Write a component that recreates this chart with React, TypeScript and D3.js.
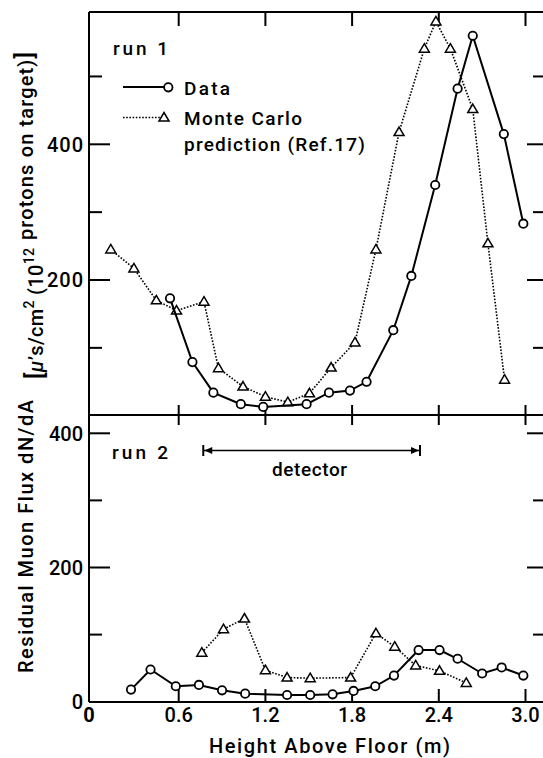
import React from "react";
import * as d3 from "d3";

// ---- data ----
const run1DataX = [0.54, 0.695, 0.84, 1.03, 1.185, 1.485, 1.64, 1.785, 1.9, 2.085, 2.21, 2.375, 2.53, 2.635, 2.85, 2.985];
const run1DataY = [173, 79, 34, 17, 13, 17, 34, 37, 50, 126, 206, 340, 482, 560, 415, 283];
const run1MCX = [0.13, 0.29, 0.445, 0.585, 0.775, 0.875, 1.045, 1.2, 1.355, 1.505, 1.655, 1.82, 1.965, 2.125, 2.3, 2.38, 2.48, 2.635, 2.74, 2.855];
const run1MCY = [245, 217, 170, 155, 168, 70, 43, 28, 20, 33, 71, 108, 245, 418, 541, 581, 541, 452, 254, 53];

const run2DataX = [0.27, 0.405, 0.58, 0.74, 0.9, 1.06, 1.35, 1.51, 1.665, 1.81, 1.96, 2.09, 2.26, 2.405, 2.53, 2.7, 2.835, 2.985];
const run2DataY = [18, 48, 23, 25, 17, 12, 10, 10, 11, 16, 23, 39, 77, 77, 64, 42, 51, 39];
const run2MCX = [0.76, 0.91, 1.055, 1.2, 1.35, 1.51, 1.79, 1.965, 2.095, 2.24, 2.405, 2.59];
const run2MCY = [73, 108, 124, 47, 36, 35, 36, 102, 82, 54, 46, 28];

const detectorRange = [0.77, 2.27];

const xTicks = [0, 0.6, 1.2, 1.8, 2.4, 3.0];
const xTickLabels = ["0", "0.6", "1.2", "1.8", "2.4", "3.0"];
const topMajor = [200, 400];
const topMinor = [100, 300, 500];
const botMajor = [200, 400];
const botMinor = [100, 300];
const botLabels = [0, 200, 400];

// ---- layout ----
const W = 543, H = 758;
const L = 89, R = 545, T = 12, MID = 415, B = 702;
const FONT = "Roboto, 'DejaVu Sans', sans-serif";
const FW = 500;

const x = d3.scaleLinear().domain([0, 3]).range([92, 525.5]);
const yTop = d3.scaleLinear().domain([0, 400]).range([415.7, 144.3]);
const yBot = d3.scaleLinear().domain([0, 400]).range([701.7, 433.3]);

const zip = (xs: number[], ys: number[]) => xs.map((v, i) => [v, ys[i]] as [number, number]);

function tri(cx: number, cy: number, key: string) {
  const p = `M${cx},${cy - 5} L${cx + 5},${cy + 3.5} L${cx - 5},${cy + 3.5} Z`;
  return <path key={key} d={p} fill="white" stroke="black" strokeWidth={1.5} strokeLinejoin="miter" />;
}

function Series({ xs, ys, y, kind }: { xs: number[]; ys: number[]; y: d3.ScaleLinear<number, number>; kind: "data" | "mc" }) {
  const pts = zip(xs, ys);
  const line = d3.line<[number, number]>().x(d => x(d[0])).y(d => y(d[1]));
  return (
    <g>
      <path d={line(pts) || ""} fill="none" stroke="black"
        strokeWidth={kind === "data" ? 2 : 1.6}
        strokeDasharray={kind === "data" ? undefined : "1.6 1.6"} />
      {pts.map((d, i) =>
        kind === "data"
          ? <circle key={i} cx={x(d[0])} cy={y(d[1])} r={4.2} fill="white" stroke="black" strokeWidth={1.8} />
          : tri(x(d[0]), y(d[1]), "t" + i)
      )}
    </g>
  );
}

export default function App() {
  const xt = xTicks.slice(1);
  const dx0 = x(detectorRange[0]);
  const dx1 = x(detectorRange[1]);
  const dy = 450.5;
  return (
    <svg width={W} height={H} style={{ position: "absolute", left: 0, top: 0, background: "white" }}
      fontFamily={FONT} fontWeight={FW}>
      <rect x={0} y={0} width={W} height={H} fill="white" />
      {/* frame */}
      <g stroke="black" strokeWidth={2} fill="none">
        <line x1={L} x2={R} y1={T} y2={T} />
        <line x1={L} x2={R} y1={MID} y2={MID} />
        <line x1={L} x2={R} y1={B} y2={B} />
        <line x1={L} x2={L} y1={T} y2={B} />
        <line x1={R} x2={R} y1={T} y2={B} />
        {xt.map((v, i) => (
          <g key={"xt" + i}>
            <line x1={x(v)} x2={x(v)} y1={T} y2={T + 14} />
            <line x1={x(v)} x2={x(v)} y1={MID - 10} y2={MID + 10} />
            <line x1={x(v)} x2={x(v)} y1={B} y2={B - 13} />
          </g>
        ))}
        {topMajor.map(v => (
          <g key={"tm" + v}>
            <line x1={L} x2={L + 21} y1={yTop(v)} y2={yTop(v)} />
            <line x1={R} x2={R - 18} y1={yTop(v)} y2={yTop(v)} />
          </g>
        ))}
        {topMinor.map(v => (
          <g key={"tn" + v}>
            <line x1={L} x2={L + 13} y1={yTop(v)} y2={yTop(v)} />
            <line x1={R} x2={R - 12} y1={yTop(v)} y2={yTop(v)} />
          </g>
        ))}
        {botMajor.map(v => (
          <g key={"bm" + v}>
            <line x1={L} x2={L + 21} y1={yBot(v)} y2={yBot(v)} />
            <line x1={R} x2={R - 18} y1={yBot(v)} y2={yBot(v)} />
          </g>
        ))}
        {botMinor.map(v => (
          <g key={"bn" + v}>
            <line x1={L} x2={L + 13} y1={yBot(v)} y2={yBot(v)} />
            <line x1={R} x2={R - 12} y1={yBot(v)} y2={yBot(v)} />
          </g>
        ))}
      </g>

      {/* y tick labels */}
      <g fontSize={20} textAnchor="end" fill="black">
        {topMajor.map(v => (
          <text key={"tl" + v} x={83} y={yTop(v)} dy="0.36em" textLength={36} lengthAdjust="spacing">{v}</text>
        ))}
        {botLabels.map(v => (
          <text key={"bl" + v} x={83} y={yBot(v)} dy="0.36em">{v}</text>
        ))}
      </g>
      {/* x tick labels */}
      <g fontSize={20} textAnchor="middle" fill="black">
        {xTicks.map((v, i) => (
          <text key={"xl" + i} x={i === 0 ? 89 : x(v)} y={722} fontWeight={i === 0 ? 700 : FW}>{xTickLabels[i]}</text>
        ))}
      </g>
      <text x={209} y={753} fontSize={20} textLength={241} lengthAdjust="spacing">Height Above Floor (m)</text>

      {/* y axis label */}
      <g fontSize={20} fill="black">
        <text transform="translate(33,673) rotate(-90)" textLength={273} lengthAdjust="spacing">Residual Muon Flux dN/dA</text>
        <text transform="translate(43,379) rotate(-90)" textLength={131} lengthAdjust="spacing">
          <tspan fontSize={24}>[</tspan><tspan fontStyle="italic">μ</tspan>’s/cm<tspan fontSize={14} dy={-9}>2</tspan><tspan dy={9}> (10</tspan><tspan fontSize={14} dy={-9}>12</tspan>
        </text>
        <text transform="translate(33,240) rotate(-90)" textLength={188} lengthAdjust="spacing">
          protons on target)<tspan fontSize={24}>]</tspan>
        </text>
      </g>

      {/* panel labels */}
      <text x={113} y={55} fontSize={19} textLength={55} lengthAdjust="spacing">run 1</text>
      <text x={112} y={459} fontSize={19} textLength={56} lengthAdjust="spacing">run 2</text>

      {/* legend */}
      <line x1={123} x2={164} y1={87} y2={87} stroke="black" strokeWidth={2} />
      <circle cx={168.3} cy={87.3} r={4.2} fill="white" stroke="black" strokeWidth={1.8} />
      <text x={184} y={95} fontSize={19} textLength={46} lengthAdjust="spacing">Data</text>
      <line x1={123} x2={160} y1={117.5} y2={117.5} stroke="black" strokeWidth={1.6} strokeDasharray="1.6 1.6" />
      {tri(164, 117.5, "legtri")}
      <text x={184} y={125} fontSize={19} textLength={118} lengthAdjust="spacing">Monte Carlo</text>
      <text x={184} y={151} fontSize={19} textLength={181} lengthAdjust="spacing">prediction (Ref.17)</text>

      {/* detector arrow */}
      <g stroke="black" strokeWidth={1.6}>
        <line x1={dx0} x2={dx1} y1={dy} y2={dy} />
        <line x1={dx0} x2={dx0} y1={dy - 5.5} y2={dy + 5.5} strokeWidth={2} />
        <line x1={dx1} x2={dx1} y1={dy - 5.5} y2={dy + 5.5} strokeWidth={2} />
      </g>
      <path d={`M${dx0 + 1},${dy} L${dx0 + 9},${dy - 3.5} L${dx0 + 9},${dy + 3.5} Z`} fill="black" />
      <path d={`M${dx1 - 1},${dy} L${dx1 - 9},${dy - 3.5} L${dx1 - 9},${dy + 3.5} Z`} fill="black" />
      <text x={272} y={476} fontSize={19} textLength={75} lengthAdjust="spacing">detector</text>

      {/* series */}
      <Series xs={run1MCX} ys={run1MCY} y={yTop} kind="mc" />
      <Series xs={run1DataX} ys={run1DataY} y={yTop} kind="data" />
      <Series xs={run2MCX} ys={run2MCY} y={yBot} kind="mc" />
      <Series xs={run2DataX} ys={run2DataY} y={yBot} kind="data" />
    </svg>
  );
}
